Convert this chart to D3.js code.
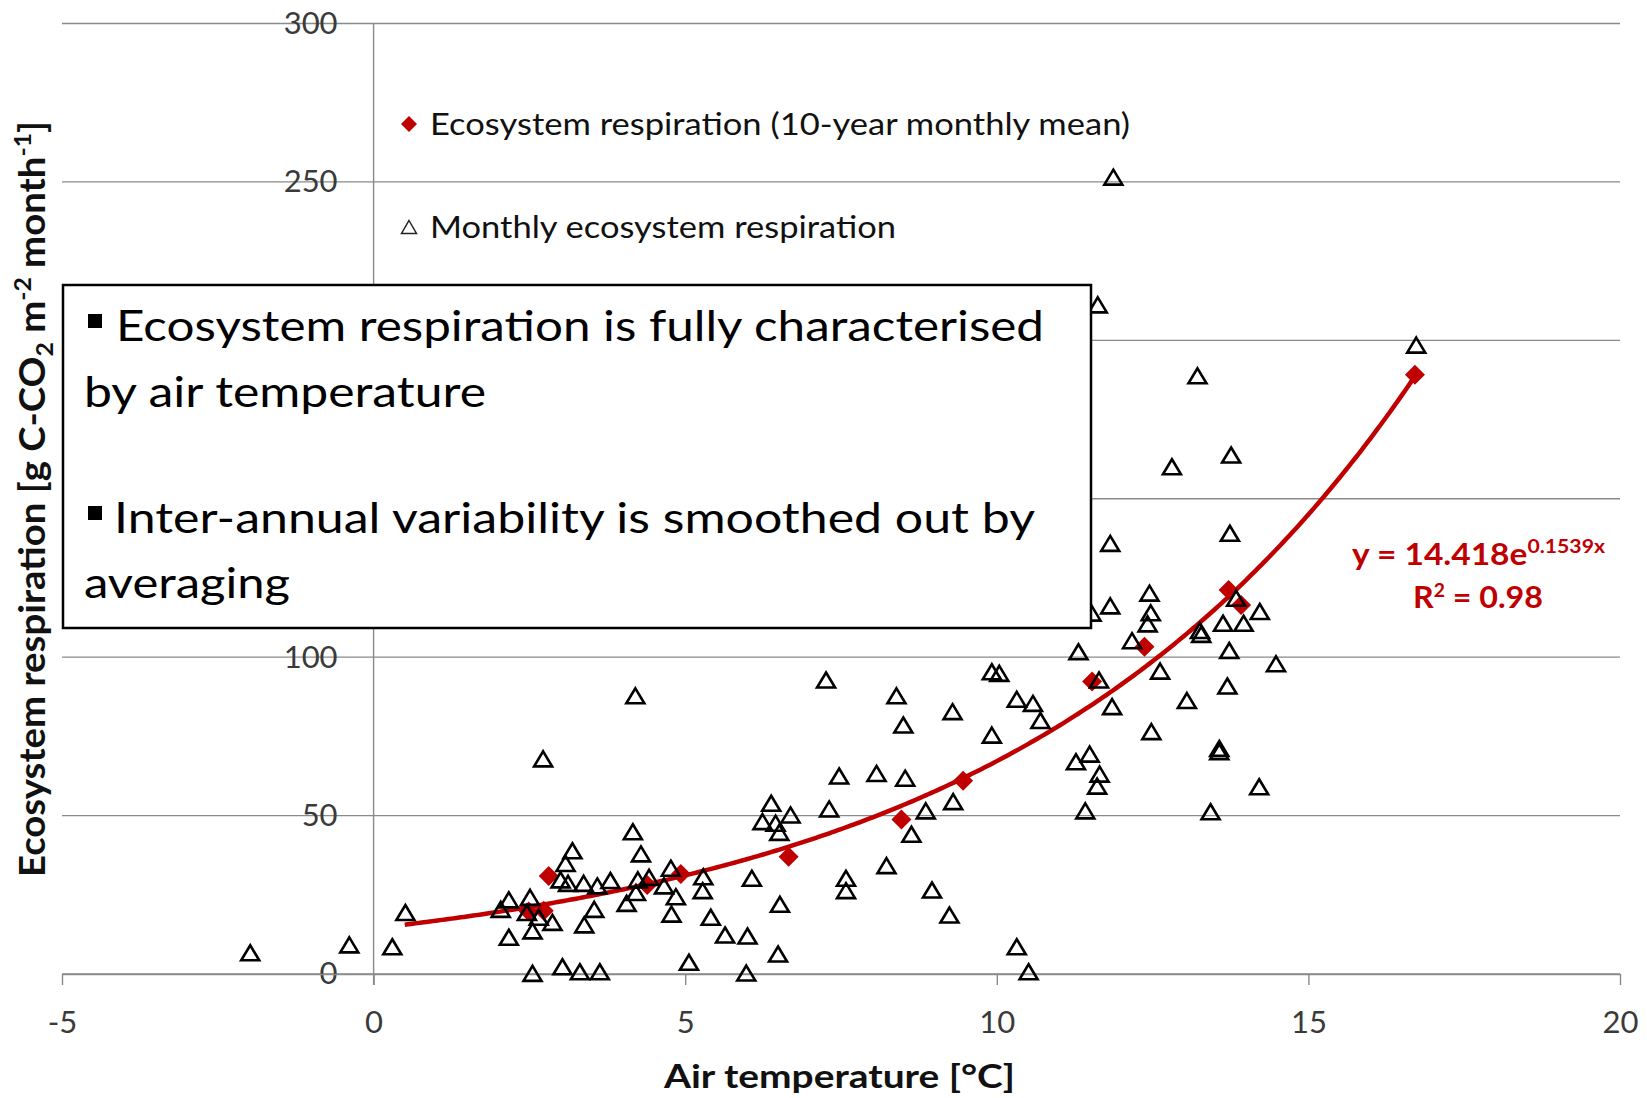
<!DOCTYPE html>
<html>
<head>
<meta charset="utf-8">
<script src="https://cdn.jsdelivr.net/npm/d3@7"></script>
<style>
  body { margin: 0; background: #fff; }
  svg { display: block; font-family: Lato, "Open Sans", sans-serif; }
</style>
</head>
<body>
<svg id="chart"></svg>
<script>
// Monatswerte (einzelne Jahre): Lufttemperatur [°C] und Ökosystematmung
const monthlyTemp = [
  -1.98, -0.39, 0.30, 0.51, 2.04, 2.17, 2.51, 2.17, 2.55, 2.65, 2.87, 2.55, 3.03,
  3.31, 3.63, 3.19, 3.08, 3.00, 3.12, 3.37, 3.59, 3.80, 3.54, 3.38, 2.72, 2.46,
  4.06, 4.16, 4.29, 4.24, 4.42, 4.21, 4.77, 4.66, 4.85, 4.78, 5.06, 5.29, 5.28,
  5.41, 4.20, 5.64, 6.00, 5.98, 6.07, 6.38, 6.24, 6.45, 6.51, 6.69, 6.52, 6.49,
  7.26, 8.39, 8.50, 9.29, 9.92, 10.04, 10.32, 10.58, 10.70, 9.92, 7.47, 8.07,
  8.53, 9.30, 8.86, 7.31, 8.63, 8.23, 7.58, 7.58, 8.96, 9.24, 10.32, 10.51,
  11.31, 11.64, 11.85, 12.17, 12.42, 12.47, 12.45, 11.82, 11.52, 12.62, 12.48,
  13.05, 13.26, 13.28, 13.63, 13.96, 14.22, 13.73, 13.70, 14.48, 13.57, 13.57,
  14.21, 13.43, 11.27, 11.49, 11.65, 11.61, 11.42, 13.84, 11.82, 13.74, 12.81,
  13.76, 13.22, 16.73, 11.62, 11.87
];
const monthlyResp = [
  6.7, 9.2, 8.6, 19.4, 20.4, 23.4, 24.2, 11.6, 13.6, 17.9, 16.3, 0.2, 2.3,
  0.7, 0.7, 38.9, 34.9, 29.7, 28.6, 28.6, 27.8, 29.5, 20.4, 15.5, 67.9, 19.4,
  22.3, 44.9, 37.9, 29.7, 30.5, 25.7, 33.4, 27.8, 24.4, 18.9, 3.7, 30.7, 26.3,
  17.9, 87.8, 12.3, 12.0, 0.3, 30.2, 53.9, 48.1, 47.6, 44.7, 50.2, 22.0, 6.3,
  92.8, 87.8, 78.6, 82.8, 95.4, 94.9, 86.7, 85.4, 80.0, 75.4, 62.5, 63.3,
  61.8, 54.4, 51.5, 52.1, 44.1, 34.2, 30.2, 26.3, 26.5, 18.6, 8.6, 0.7,
  101.7, 92.8, 84.4, 105.2, 110.5, 114.0, 120.2, 116.2, 113.9, 95.6, 76.5,
  86.3, 108.4, 107.2, 110.7, 110.7, 114.4, 102.1, 90.9, 97.9, 71.2, 70.2,
  59.1, 51.2, 67.0, 69.4, 63.1, 59.3, 51.5, 118.6, 135.9, 139.1, 160.1,
  163.8, 188.8, 198.5, 211.2, 251.5
];

// 10-Jahres-Monatsmittel
const meanTemp = [2.49, 2.73, 2.81, 4.39, 4.93, 6.66, 8.47, 9.46, 11.53, 12.37, 13.72, 13.92, 16.71];
const meanResp = [19.7, 20.0, 30.9, 28.1, 31.6, 37.0, 48.8, 61.0, 92.3, 103.3, 121.2, 116.5, 189.1];

// Exponentieller Fit (Trendlinie) und Bereich
const fitCoef  = [14.418, 0.1539];
const fitR2    = "0.98";
const fitRange = [0.5, 16.71];

const xTicks = [-5, 0, 5, 10, 15, 20];
const yTicks = [0, 50, 100, 150, 200, 250, 300];
const yTicksHidden = [150, 200];   // liegen unter der Textbox

const width = 1647, height = 1098;
const red = "#C00000", grid = "#8a8a8a";

const svg = d3.select("#chart")
  .attr("width", width)
  .attr("height", height)
  .attr("viewBox", `0 0 ${width} ${height}`);

const x = d3.scaleLinear().domain([-5, 20]).range([62, 1620]);
const y = d3.scaleLinear().domain([0, 300]).range([974, 23.5]);

// Gitterlinien
svg.append("g")
  .selectAll("line")
  .data(yTicks)
  .join("line")
  .attr("x1", x(-5)).attr("x2", x(20))
  .attr("y1", d => y(d)).attr("y2", d => y(d))
  .attr("stroke", grid)
  .attr("stroke-width", 1.4);

// Y-Achse (bei x = 0)
svg.append("line")
  .attr("x1", x(0)).attr("x2", x(0))
  .attr("y1", y(300)).attr("y2", y(0) + 11)
  .attr("stroke", grid)
  .attr("stroke-width", 1.4);

const yAxis = svg.append("g")
  .attr("transform", `translate(${x(0)},0)`)
  .call(d3.axisLeft(y)
    .tickValues(yTicks.filter(t => !yTicksHidden.includes(t)))
    .tickSize(0).tickPadding(36));
yAxis.select(".domain").remove();
yAxis.selectAll("text")
  .attr("font-family", "Lato")
  .attr("font-size", 31)
  .attr("fill", "#3a3a3a");

// X-Achse
const xAxis = svg.append("g")
  .attr("transform", `translate(0,${y(0)})`)
  .call(d3.axisBottom(x)
    .tickValues(xTicks)
    .tickFormat(d => String(d))
    .tickSize(11).tickSizeOuter(0).tickPadding(26));
xAxis.select(".domain").attr("stroke", grid).attr("stroke-width", 1.4);
xAxis.selectAll(".tick line").attr("stroke", grid).attr("stroke-width", 1.4);
xAxis.selectAll("text")
  .attr("font-family", "Lato")
  .attr("font-size", 31)
  .attr("fill", "#3a3a3a");

// Trendlinie
const fitX = d3.range(fitRange[0], fitRange[1], 0.05).concat([fitRange[1]]);
svg.append("path")
  .datum(fitX)
  .attr("fill", "none")
  .attr("stroke", red)
  .attr("stroke-width", 4.5)
  .attr("d", d3.line()
    .x(d => x(d))
    .y(d => y(fitCoef[0] * Math.exp(fitCoef[1] * d))));

// Rauten: Monatsmittel
const diamond = "M0,-10L10,0L0,10L-10,0Z";
svg.append("g")
  .selectAll("path")
  .data(meanTemp)
  .join("path")
  .attr("d", diamond)
  .attr("transform", (d, i) => `translate(${x(d)},${y(meanResp[i])})`)
  .attr("fill", red);

// Dreiecke: Monatswerte
const triangle = "M0,-7.5L9,7.5L-9,7.5Z";
svg.append("g")
  .selectAll("path")
  .data(monthlyTemp)
  .join("path")
  .attr("d", triangle)
  .attr("transform", (d, i) => `translate(${x(d)},${y(monthlyResp[i])})`)
  .attr("fill", "none")
  .attr("stroke", "#000")
  .attr("stroke-width", 2.6)
  .attr("stroke-linejoin", "miter");

// Legende
const legend = svg.append("g");
legend.append("path")
  .attr("d", "M0,-8L8,0L0,8L-8,0Z")
  .attr("transform", "translate(409,124)")
  .attr("fill", red);
legend.append("text")
  .attr("x", 430).attr("y", 135)
  .attr("font-size", 30)
  .attr("fill", "#111")
  .attr("textLength", 700)
  .attr("lengthAdjust", "spacingAndGlyphs")
  .text("Ecosystem respiration (10-year monthly mean)");
legend.append("path")
  .attr("d", "M0,-6.5L7.5,6.5L-7.5,6.5Z")
  .attr("transform", "translate(409,227)")
  .attr("fill", "none")
  .attr("stroke", "#222")
  .attr("stroke-width", 1.5);
legend.append("text")
  .attr("x", 430).attr("y", 238)
  .attr("font-size", 30)
  .attr("fill", "#111")
  .attr("textLength", 466)
  .attr("lengthAdjust", "spacingAndGlyphs")
  .text("Monthly ecosystem respiration");

// Gleichung der Trendlinie
const eq = svg.append("text")
  .attr("x", 1352).attr("y", 565)
  .attr("font-size", 30)
  .attr("font-weight", "bold")
  .attr("fill", red)
  .attr("textLength", 253)
  .attr("lengthAdjust", "spacingAndGlyphs");
eq.append("tspan").text(`y = ${fitCoef[0]}e`);
eq.append("tspan").attr("dy", -12).attr("font-size", 19).text(`${fitCoef[1]}x`);

const r2 = svg.append("text")
  .attr("x", 1413).attr("y", 608)
  .attr("font-size", 30)
  .attr("font-weight", "bold")
  .attr("fill", red)
  .attr("textLength", 130)
  .attr("lengthAdjust", "spacingAndGlyphs");
r2.append("tspan").text("R");
r2.append("tspan").attr("dy", -11).attr("font-size", 18).text("2");
r2.append("tspan").attr("dy", 11).text(` = ${fitR2}`);

// Achsentitel
svg.append("text")
  .attr("x", 664).attr("y", 1088)
  .attr("font-size", 32)
  .attr("font-weight", "bold")
  .attr("fill", "#111")
  .attr("textLength", 351)
  .attr("lengthAdjust", "spacingAndGlyphs")
  .text("Air temperature [°C]");

const yTitle = svg.append("text")
  .attr("transform", "translate(45,499) scale(1.15,1) rotate(-90)")
  .attr("text-anchor", "middle")
  .attr("font-size", 31)
  .attr("font-weight", "bold")
  .attr("fill", "#111")
  .attr("textLength", 756)
  .attr("lengthAdjust", "spacingAndGlyphs");
yTitle.append("tspan").text("Ecosystem respiration [g C-CO");
yTitle.append("tspan").attr("dy", 7).attr("font-size", 20).text("2");
yTitle.append("tspan").attr("dy", -7).text(" m");
yTitle.append("tspan").attr("dy", -12).attr("font-size", 20).text("-2");
yTitle.append("tspan").attr("dy", 12).text(" month");
yTitle.append("tspan").attr("dy", -12).attr("font-size", 20).text("-1");
yTitle.append("tspan").attr("dy", 12).text("]");

// Textbox über dem Diagramm
const box = svg.append("g");
box.append("rect")
  .attr("x", 63).attr("y", 285)
  .attr("width", 1028).attr("height", 343)
  .attr("fill", "#fff")
  .attr("stroke", "#000")
  .attr("stroke-width", 2.5);

const boxLines = [
  { text: "Ecosystem respiration is fully characterised", x: 116, y: 341, len: 928, bullet: true },
  { text: "by air temperature", x: 84, y: 407, len: 402 },
  { text: "Inter-annual variability is smoothed out by", x: 114, y: 533, len: 921, bullet: true },
  { text: "averaging", x: 84, y: 598, len: 206 }
];
boxLines.forEach(l => {
  if (l.bullet) {
    box.append("rect")
      .attr("x", 88).attr("y", l.y - 27)
      .attr("width", 14).attr("height", 14)
      .attr("fill", "#000");
  }
  box.append("text")
    .attr("x", l.x).attr("y", l.y)
    .attr("font-size", 43)
    .attr("fill", "#000")
    .attr("textLength", l.len)
    .attr("lengthAdjust", "spacingAndGlyphs")
    .text(l.text);
});
</script>
</body>
</html>
